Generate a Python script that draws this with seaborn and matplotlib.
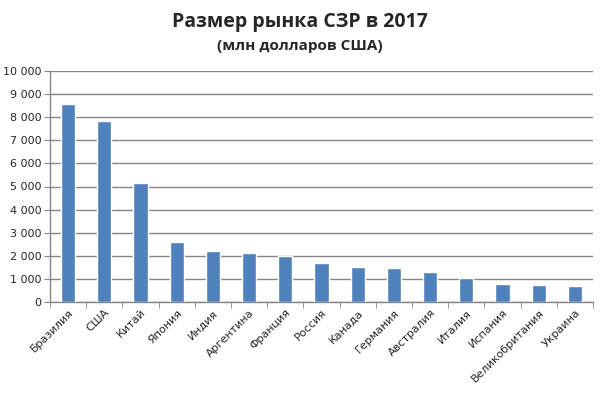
import numpy as np
import pandas as pd
import matplotlib
matplotlib.use("Agg")
import matplotlib.pyplot as plt
import seaborn as sns
from matplotlib.ticker import FuncFormatter, FixedLocator

countries = ["Бразилия", "США", "Китай", "Япония", "Индия", "Аргентина", "Франция",
             "Россия", "Канада", "Германия", "Австралия", "Италия", "Испания",
             "Великобритания", "Украина"]
market_size = [8590, 7850, 5170, 2610, 2220, 2140, 1990,
               1700, 1530, 1490, 1310, 1050, 790, 750, 710]

df = pd.DataFrame({"country": countries, "value": market_size})

sns.set_style("white")
plt.rcParams["font.family"] = ["DejaVu Sans"]

fig = plt.figure(figsize=(6.05, 3.97), dpi=100)
ax = fig.add_axes([50 / 605, 1 - 302 / 397, 543 / 605, 231 / 397])

sns.barplot(data=df, x="country", y="value", color="#4F81BD", width=0.39,
            saturation=1, ax=ax, zorder=3)

ax.set_ylim(0, 10000)
ax.set_xlim(-0.5, len(countries) - 0.5)
ax.set_yticks(range(0, 10001, 1000))
ax.yaxis.set_major_formatter(FuncFormatter(lambda v, p: f"{int(v):,}".replace(",", " ")))
ax.yaxis.grid(True, color="#868686", linewidth=1, zorder=0)
ax.set_axisbelow(True)

for s in ["top", "right"]:
    ax.spines[s].set_visible(False)
for s in ["left", "bottom"]:
    ax.spines[s].set_color("#868686")
    ax.spines[s].set_linewidth(1)

ax.tick_params(axis="y", length=4, color="#868686", labelsize=8, pad=2, left=True)
ax.tick_params(axis="x", which="major", length=0, labelsize=8, pad=4)
ax.xaxis.set_minor_locator(FixedLocator(np.arange(-0.5, len(countries), 1)))
ax.tick_params(axis="x", which="minor", length=4, color="#868686", bottom=True)
plt.setp(ax.get_xticklabels(), rotation=45, ha="right", rotation_mode="anchor")

ax.set_xlabel("")
ax.set_ylabel("")

fig.text(0.495, 0.945, "Размер рынка СЗР в 2017", ha="center", va="center",
         fontsize=14, fontweight="bold", family=["Open Sans", "DejaVu Sans"])
fig.text(0.495, 0.885, "(млн долларов США)", ha="center", va="center",
         fontsize=11, fontweight="bold", family=["Open Sans", "DejaVu Sans"])

fig.savefig("out.png", dpi=100)
